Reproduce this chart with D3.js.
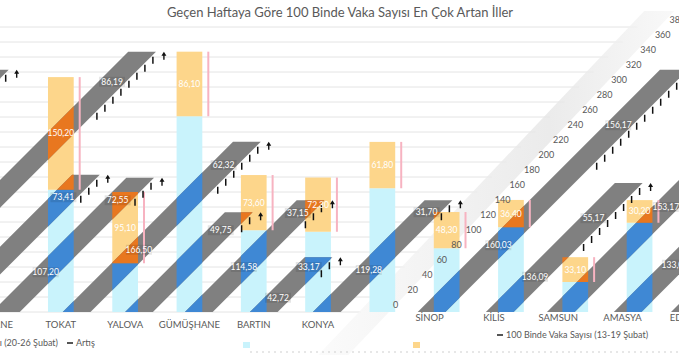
<!DOCTYPE html>
<html>
<head>
<meta charset="utf-8">
<script src="https://cdn.jsdelivr.net/npm/d3@7"></script>
<style>
  body { margin: 0; background: #fff; }
  svg { font-family: Lato, "Open Sans", sans-serif; display: block; }
</style>
</head>
<body>
<div id="container"></div>
<script>
/* CONSTANTS AND GLOBALS */
const width = 679,
  height = 355;

/* DATA */
const categories = ["TOKAT", "YALOVA", "GÜMÜŞHANE", "BARTIN", "KONYA", "", "SİNOP", "KİLİS", "SAMSUN", "AMASYA", "EDİRNE"];
const baseValues = [163, 65, 261, 109, 107, 165, 85, 113, 40, 119, 110];
const increaseValues = [150.2, 95.1, 86.1, 73.6, 72.3, 61.8, 48.3, 36.4, 33.1, 30.2, 28.4];
const yTickValues = [0, 20, 40, 60, 80, 100, 120, 140, 160, 180, 200, 220, 240, 260, 280, 300, 320, 340, 360, 380];

// slanted grey series (start in category steps, top in axis units)
const slantStarts = [-2.80, 0.23, 5.75, -1.76, -0.87, 1.20, 2.13, 3.14, 4.12, 6.81];
const slantTops = [347, 227, 323, 183, 179, 133, 149, 73, 149, 172];
const slantTickCounts = [8, 6, 12, 3, 3, 2, 3, 2, 2, 8];
// [slant index, label, level]
const slantLabels = [
  [0, "86,19", 307], [0, "153,17", 140],
  [1, "62,32", 196], [1, "166,50", 83],
  [2, "156,17", 249], [2, "160,03", 89],
  [3, "73,41", 153], [3, "133,05", 63],
  [4, "107,20", 53], [4, "72,55", 149],
  [5, "49,75", 109],
  [6, "37,15", 132], [6, "114,58", 60],
  [7, "33,17", 60], [7, "42,72", 19],
  [8, "31,70", 133], [8, "119,28", 56],
  [9, "55,17", 125], [9, "136,09", 47]
];

const title = "Geçen Haftaya Göre 100 Binde Vaka Sayısı En Çok Artan İller";
const legendLabels = ["100 Binde Vaka Sayısı (20-26 Şubat)", "Artış", "100 Binde Vaka Sayısı (13-19 Şubat)"];

const fmt = v => d3.format(".2f")(v).replace(".", ",");

/* SCALES */
const idx = d3.range(categories.length);
const x = d3.scaleBand()
  .domain(idx)
  .range([9.4, 755.3])
  .padding(0.6);

const y = d3.scaleLinear()
  .domain([0, 380])
  .range([312, 27]);

const xs = d3.scaleLinear()
  .domain([0, 1])
  .range([x(0), x(1)]);

const shear = v => y(0) - y(v);
const sw = x.bandwidth() + 2;

// slanted axis label position
const lx = v => 393 + shear(v) * 0.97;
const ly = v => y(v) - 7;

/* HTML ELEMENTS */
const svg = d3.select("#container")
  .append("svg")
  .attr("width", width)
  .attr("height", height);

const defs = svg.append("defs");

defs.append("clipPath").attr("id", "clipBase")
  .selectAll("rect")
  .data(idx)
  .join("rect")
  .attr("x", i => x(i))
  .attr("y", i => y(baseValues[i]))
  .attr("width", x.bandwidth())
  .attr("height", i => y(0) - y(baseValues[i]));

defs.append("clipPath").attr("id", "clipInc")
  .selectAll("rect")
  .data(idx)
  .join("rect")
  .attr("x", i => x(i))
  .attr("y", i => y(baseValues[i] + increaseValues[i]))
  .attr("width", x.bandwidth())
  .attr("height", i => y(baseValues[i]) - y(baseValues[i] + increaseValues[i]));

const grad = defs.append("linearGradient").attr("id", "fuzz")
  .attr("x1", 0).attr("x2", 1).attr("y1", 0).attr("y2", 0);
grad.append("stop").attr("offset", "0%").attr("stop-color", "#fafafa");
grad.append("stop").attr("offset", "65%").attr("stop-color", "#e6e6e6");
grad.append("stop").attr("offset", "100%").attr("stop-color", "#f7f7f7");

// gridlines
svg.append("g")
  .selectAll("line")
  .data(yTickValues)
  .join("line")
  .attr("x1", 0)
  .attr("x2", v => lx(v) - 32)
  .attr("y1", v => y(v))
  .attr("y2", v => y(v))
  .attr("stroke", "#e4e4e4")
  .attr("stroke-width", 1);

// fuzzy band behind the slanted axis
svg.append("path")
  .attr("d", d3.line()([
    [lx(-58) - 34, ly(-58) + 8], [lx(-58) - 4, ly(-58) + 8],
    [lx(392) - 4, ly(392)], [lx(392) - 34, ly(392)]
  ]) + "Z")
  .attr("fill", "url(#fuzz)")
  .attr("opacity", 0.8);

// bars
svg.append("g")
  .selectAll("rect")
  .data(idx)
  .join("rect")
  .attr("x", i => x(i))
  .attr("y", i => y(baseValues[i]))
  .attr("width", x.bandwidth())
  .attr("height", i => y(0) - y(baseValues[i]))
  .attr("fill", "#c9f3fc");

svg.append("g")
  .selectAll("rect")
  .data(idx)
  .join("rect")
  .attr("x", i => x(i))
  .attr("y", i => y(baseValues[i] + increaseValues[i]))
  .attr("width", x.bandwidth())
  .attr("height", i => y(baseValues[i]) - y(baseValues[i] + increaseValues[i]))
  .attr("fill", "#fdd68b");

// slanted series
const slantIdx = d3.range(slantStarts.length);
const shifts = [-width, 0, width];
const slantPath = (i, k) => {
  const x0 = xs(slantStarts[i]) + k;
  const t = slantTops[i];
  return d3.line()([
    [x0, y(0)], [x0 + sw, y(0)],
    [x0 + sw + shear(t), y(t)], [x0 + shear(t), y(t)]
  ]) + "Z";
};
const slantData = slantIdx.flatMap(i => shifts.map(k => ({i, k})));

function drawSlants(fill, clip) {
  const g = svg.append("g");
  if (clip) g.attr("clip-path", `url(#${clip})`);
  g.selectAll("path")
    .data(slantData)
    .join("path")
    .attr("d", d => slantPath(d.i, d.k))
    .attr("fill", fill);
}
drawSlants("#808080");
drawSlants("#3f88d4", "clipBase");
drawSlants("#e8771f", "clipInc");

// pink range lines
svg.append("g")
  .selectAll("line")
  .data(idx)
  .join("line")
  .attr("x1", i => x(i) + x.bandwidth() + 6)
  .attr("x2", i => x(i) + x.bandwidth() + 6)
  .attr("y1", i => y(baseValues[i] + increaseValues[i]))
  .attr("y2", i => y(baseValues[i]))
  .attr("stroke", "#f7b3c1")
  .attr("stroke-width", 2);

// ticks and arrows on slanted series
const tickData = slantIdx.flatMap(i => shifts.flatMap(k =>
  d3.range(slantTickCounts[i]).map(n => ({i, k, n}))));
const xLeftAt = (i, k, py) => xs(slantStarts[i]) + k + (y(0) - py);
const tickY = d => y(slantTops[d.i]) + 5 + d.n * 8;

svg.append("g")
  .selectAll("line")
  .data(tickData)
  .join("line")
  .attr("x1", d => xLeftAt(d.i, d.k, tickY(d)) + sw + 2)
  .attr("x2", d => xLeftAt(d.i, d.k, tickY(d)) + sw + 2)
  .attr("y1", d => tickY(d))
  .attr("y2", d => tickY(d) + 7)
  .attr("stroke", "#111")
  .attr("stroke-width", 1.5);

svg.append("g")
  .selectAll("path")
  .data(slantData)
  .join("path")
  .attr("d", d => {
    const px = xLeftAt(d.i, d.k, y(slantTops[d.i])) + sw + 8;
    const py = y(slantTops[d.i]) + 1;
    return `M${px - 2.5},${py + 3}L${px},${py - 1}L${px + 2.5},${py + 3}Z M${px - 0.7},${py + 3}h1.4v4h-1.4Z`;
  })
  .attr("fill", "#111");

// slant labels
const labelData = slantLabels.flatMap(l => shifts.map(k => ({l, k})))
  .filter(d => {
    const cx = xLeftAt(d.l[0], d.k, y(d.l[2])) + sw / 2;
    return cx > 0 && cx < width;
  });
const labelX = d => xLeftAt(d.l[0], d.k, y(d.l[2])) + sw / 2;

svg.append("g")
  .selectAll("rect")
  .data(labelData)
  .join("rect")
  .attr("x", d => labelX(d) - 13)
  .attr("y", d => y(d.l[2]) - 5)
  .attr("width", 26)
  .attr("height", 10)
  .attr("fill", "#000")
  .attr("opacity", 0.1);

svg.append("g")
  .selectAll("text")
  .data(labelData)
  .join("text")
  .attr("x", labelX)
  .attr("y", d => y(d.l[2]) + 3)
  .attr("text-anchor", "middle")
  .attr("font-size", 8.5)
  .attr("fill", "#fff")
  .text(d => d.l[1]);

// increase labels
svg.append("g")
  .selectAll("text")
  .data(idx)
  .join("text")
  .attr("x", i => x(i) + x.bandwidth() / 2)
  .attr("y", i => y(baseValues[i] + increaseValues[i] / 2) + 3)
  .attr("text-anchor", "middle")
  .attr("font-size", 8.5)
  .attr("fill", "#fff")
  .text(i => fmt(increaseValues[i]));

// slanted axis labels
svg.append("g")
  .selectAll("text")
  .data(yTickValues)
  .join("text")
  .attr("x", v => lx(v))
  .attr("y", v => ly(v) + 3)
  .attr("font-size", 9)
  .attr("fill", "#595959")
  .text(v => v);

// category labels
const catX = i => x(i) + x.bandwidth() / 2 - (i >= 6 ? 17 : 0);
const catY = i => i >= 6 ? 321 : 328;
svg.append("g")
  .selectAll("text")
  .data(idx)
  .join("text")
  .attr("x", catX)
  .attr("y", catY)
  .attr("text-anchor", "middle")
  .attr("font-size", 9.5)
  .attr("fill", "#595959")
  .text(i => categories[i]);

// wrapped copy of the last label
const last = categories.length - 1;
svg.append("text")
  .attr("x", catX(last) - 691)
  .attr("y", 328)
  .attr("text-anchor", "middle")
  .attr("font-size", 9.5)
  .attr("fill", "#595959")
  .text(categories[last]);

// title
svg.append("text")
  .attr("x", 340)
  .attr("y", 17)
  .attr("text-anchor", "middle")
  .attr("font-size", 13)
  .attr("fill", "#595959")
  .text(title);

// legend
const legend = svg.append("g").attr("font-size", 9).attr("fill", "#595959");
legend.append("text").attr("x", 58).attr("y", 346).attr("text-anchor", "end").text(legendLabels[0]);
legend.append("rect").attr("x", 67).attr("y", 342).attr("width", 6).attr("height", 2).attr("fill", "#555");
legend.append("text").attr("x", 76).attr("y", 346).text(legendLabels[1]);
legend.append("rect").attr("x", 243).attr("y", 342).attr("width", 7).attr("height", 6).attr("fill", "#c9f3fc");
legend.append("rect").attr("x", 413).attr("y", 342).attr("width", 7).attr("height", 6).attr("fill", "#fdd68b");
legend.append("rect").attr("x", 497).attr("y", 334).attr("width", 6).attr("height", 2).attr("fill", "#555");
legend.append("text").attr("x", 506).attr("y", 338).text(legendLabels[2]);

svg.append("line")
  .attr("x1", 250).attr("x2", width)
  .attr("y1", 352).attr("y2", 352)
  .attr("stroke", "#cfcfcf")
  .attr("stroke-dasharray", "2,4");
</script>
</body>
</html>
